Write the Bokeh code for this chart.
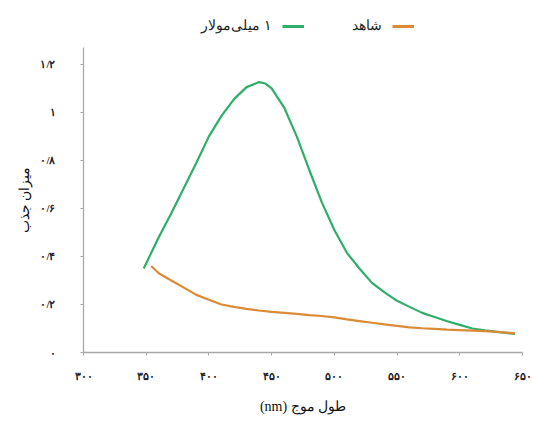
from bokeh.plotting import figure
from bokeh.layouts import column
from bokeh.models import Legend, LegendItem, FixedTicker, Range1d
from bokeh.embed import file_html
from bokeh.resources import INLINE

# 1 mM sample (green)
wl_sample = [348, 360, 370, 380, 390, 400, 410, 420, 430, 440, 445, 450, 460, 470,
             480, 490, 500, 510, 520, 530, 540, 550, 560, 570, 580, 590, 600, 610,
             620, 630, 640, 644]
abs_sample = [0.35, 0.48, 0.58, 0.685, 0.79, 0.90, 0.985, 1.055, 1.105, 1.126, 1.12,
              1.10, 1.02, 0.90, 0.76, 0.625, 0.51, 0.415, 0.35, 0.29, 0.25, 0.215,
              0.19, 0.165, 0.148, 0.13, 0.115, 0.10, 0.092, 0.086, 0.08, 0.077]

# blank / control (orange)
wl_blank = [354, 360, 370, 380, 390, 400, 410, 420, 430, 440, 450, 460, 470, 480,
            490, 500, 510, 520, 530, 540, 550, 560, 570, 580, 590, 600, 610, 620,
            630, 640, 644]
abs_blank = [0.36, 0.33, 0.30, 0.27, 0.24, 0.22, 0.20, 0.19, 0.182, 0.175, 0.169,
             0.165, 0.161, 0.156, 0.152, 0.146, 0.138, 0.131, 0.124, 0.117, 0.111,
             0.105, 0.101, 0.098, 0.095, 0.093, 0.091, 0.089, 0.086, 0.082, 0.080]

x_ticks = [300, 350, 400, 450, 500, 550, 600, 650]
x_tick_labels = ["۳۰۰", "۳۵۰", "۴۰۰", "۴۵۰", "۵۰۰", "۵۵۰", "۶۰۰", "۶۵۰"]
y_ticks = [0, 0.2, 0.4, 0.6, 0.8, 1.0, 1.2]
y_tick_labels = ["۰", "۰/۲", "۰/۴", "۰/۶", "۰/۸", "۱", "۱/۲"]

RLM = "\u200f"
RLE = "\u202b"
PDF = "\u202c"
label_sample = RLM + "۱ میلی‌مولار"
label_blank = "شاهد"
x_title = RLE + "طول موج (nm)" + PDF
y_title = "میزان جذب"

GREEN = "#2fae68"
ORANGE = "#db8a35"
FONT = "Liberation Serif"
W = 533

# ---- main chart ----
p = figure(width=W, height=385, output_backend="svg", toolbar_location=None,
           x_range=(300, 650), y_range=(0, 1.27),
           min_border_left=83, min_border_right=11, min_border_top=11, min_border_bottom=69)
p.outline_line_color = None
p.xgrid.grid_line_color = None
p.ygrid.grid_line_color = None

p.line(wl_sample, abs_sample, line_color=GREEN, line_width=2.2)
p.line(wl_blank, abs_blank, line_color=ORANGE, line_width=2.2)

for ax in (p.xaxis[0], p.yaxis[0]):
    ax.axis_line_color = "#a8a8a8"
    ax.axis_line_width = 1.3
    ax.major_tick_line_color = "#a8a8a8"
    ax.major_tick_in = 0
    ax.major_tick_out = 3
    ax.minor_tick_line_color = None
    ax.major_label_text_font = FONT
    ax.major_label_text_font_style = "bold"
    ax.major_label_text_font_size = "11px"
    ax.major_label_text_color = "#222222"
    ax.axis_label_text_font = FONT
    ax.axis_label_text_font_style = "normal"
    ax.axis_label_text_font_size = "14px"
    ax.axis_label_text_color = "#111111"

p.xaxis.ticker = FixedTicker(ticks=x_ticks)
p.xaxis.major_label_overrides = {t: l for t, l in zip(x_ticks, x_tick_labels)}
p.xaxis.major_label_standoff = 14
p.xaxis.axis_label = x_title
p.xaxis.axis_label_standoff = 14

p.yaxis.ticker = FixedTicker(ticks=y_ticks)
p.yaxis.major_label_overrides = {t: l for t, l in zip(y_ticks, y_tick_labels)}
p.yaxis.major_label_standoff = 25
p.yaxis.axis_label = y_title
p.yaxis.axis_label_standoff = 5

# ---- legend strip (right-to-left: label then its line) ----
lg = figure(width=W, height=36, output_backend="svg", toolbar_location=None,
            x_range=Range1d(0, 1), y_range=Range1d(0, 1),
            x_axis_location=None, y_axis_location=None,
            min_border=0, min_border_left=0, min_border_right=0,
            min_border_top=0, min_border_bottom=0)
lg.grid.visible = False
lg.outline_line_color = None
# the series data lie outside this strip's ranges, so only the legend swatches show
g_none = lg.line(wl_sample, abs_sample, line_alpha=0)
g_sample = lg.line(wl_sample, abs_sample, line_color=GREEN, line_width=3)
g_blank = lg.line(wl_blank, abs_blank, line_color=ORANGE, line_width=3)

legend = Legend(items=[
    LegendItem(label=label_sample, renderers=[g_none]),
    LegendItem(label=label_blank, renderers=[g_sample]),
    LegendItem(label="", renderers=[g_blank]),
], orientation="horizontal", location=(48, 2))
legend.label_text_font = FONT
legend.label_text_font_size = "14px"
legend.label_text_color = "#222222"
legend.glyph_width = 22
legend.glyph_height = 14
legend.label_standoff = 48
legend.spacing = 10
legend.padding = 0
legend.margin = 0
legend.border_line_color = None
legend.background_fill_alpha = 0
lg.add_layout(legend, "center")

layout = column(lg, p, spacing=0)
html = file_html(layout, INLINE)
open("out.html", "w").write(html)
